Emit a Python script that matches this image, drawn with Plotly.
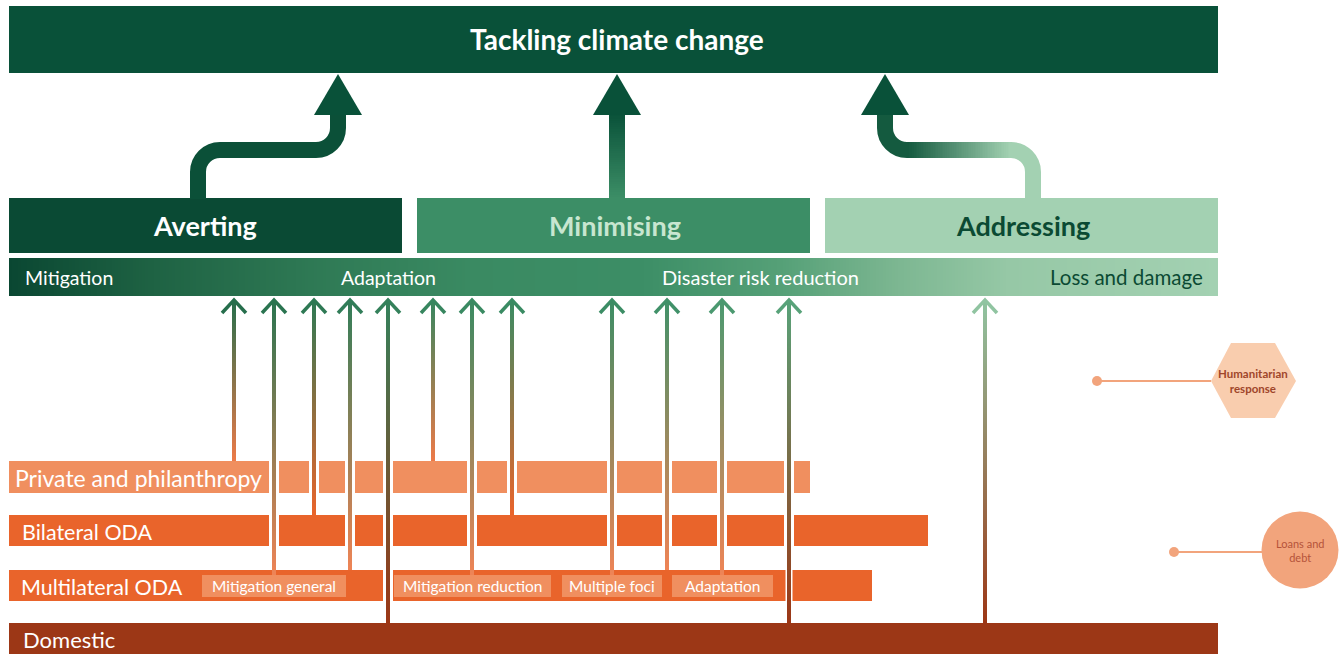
import numpy as np
import plotly.graph_objects as go

# ---------------- data ----------------
title_text = "Tackling climate change"
pillars = ["Averting", "Minimising", "Addressing"]
themes = ["Mitigation", "Adaptation", "Disaster risk reduction", "Loss and damage"]
sources = ["Private and philanthropy", "Bilateral ODA", "Multilateral ODA", "Domestic"]
source_extent = [810, 928, 872, 1218]          # right end of each source bar
sub_labels = ["Mitigation general", "Mitigation reduction", "Multiple foci", "Adaptation"]
sub_extent = [(202, 346), (394, 551), (562, 662), (672, 773)]
flow_x = [234, 274, 314, 350, 388, 433, 472, 512, 612, 667, 722, 789, 985]
flow_src = ["Private and philanthropy", "Multilateral ODA", "Bilateral ODA", "Multilateral ODA",
            "Domestic", "Private and philanthropy", "Multilateral ODA", "Bilateral ODA",
            "Multilateral ODA", "Multilateral ODA", "Multilateral ODA", "Domestic", "Domestic"]
narrow_crossings = [(789, "Multilateral ODA")]
side_notes = ["Humanitarian<br>response", "Loans and<br>debt"]

# ---------------- styles ----------------
FONT = "Lato"
DARK = "#095139"
PILLAR_FILL = ["#0A4A34", "#3C8E66", "#A3D1B2"]
PILLAR_TEXT = ["#FFFFFF", "#C8E6D0", "#0B4A33"]
SRC_FILL = ["#F08F5F", "#E9642B", "#E9642B", "#9C3716"]
SRC_TOP = [461, 515, 570, 623]
SRC_BOT = [493, 546, 601, 654]
SRC_TEXT_X = [13, 20, 19, 21]
SRC_TEXT_SIZE = [23, 21.5, 21.5, 22]
FLOW_BOTTOM_COL = {"Private and philanthropy": "#EC7A48", "Bilateral ODA": "#E9642B",
                   "Multilateral ODA": "#EE8456", "Domestic": "#9C3716"}
GRAD_STOPS = [(9, "#0A4732"), (150, "#1E6243"), (320, "#2F7A55"), (470, "#3A8A62"),
              (640, "#3C8E66"), (780, "#55A077"), (900, "#7DB792"), (1010, "#96C8A6"),
              (1218, "#A3D1B2")]


def h2rgb(h):
    h = h.lstrip("#")
    return tuple(int(h[i:i + 2], 16) for i in (0, 2, 4))


def rgb2h(c):
    return "#%02X%02X%02X" % tuple(int(round(v)) for v in c)


def mix(a, b, t):
    a, b = h2rgb(a), h2rgb(b)
    return rgb2h([a[i] + (b[i] - a[i]) * t for i in range(3)])


def grad_at(x):
    for (x0, c0), (x1, c1) in zip(GRAD_STOPS[:-1], GRAD_STOPS[1:]):
        if x0 <= x <= x1:
            return mix(c0, c1, (x - x0) / (x1 - x0))
    return GRAD_STOPS[-1][1] if x > GRAD_STOPS[-1][0] else GRAD_STOPS[0][1]


fig = go.Figure()
shapes = []
ann = []


def rect(x0, y0, x1, y1, color, layer="below"):
    shapes.append(dict(type="rect", xref="x", yref="y", x0=x0, x1=x1, y0=y0, y1=y1,
                       fillcolor=color, line=dict(width=0), layer=layer))


def text(x, y, s, size, color, anchor="center", bold=False):
    ann.append(dict(x=x, y=y, xref="x", yref="y", text=s, showarrow=False, xanchor=anchor,
                    yanchor="middle", font=dict(family=FONT, size=size, color=color,
                                                weight=700 if bold else 400)))


def vgrad(xc, w, ytop, ybot, ctop, cbot, n=None):
    n = n or max(int((ybot - ytop) / 2), 2)
    h = (ybot - ytop) / n
    ys = [ytop + (i + 0.5) * h for i in range(n)]
    z = [[i / (n - 1)] for i in range(n)]
    fig.add_trace(go.Heatmap(x0=xc, dx=w, y=ys, z=z, zmin=0, zmax=1,
                             colorscale=[[0, ctop], [1, cbot]], showscale=False,
                             hoverinfo="skip"))


def hgrad(xl, xr, yc, hgt, cl, cr, n=60):
    dx = (xr - xl) / n
    xs = [xl + (i + 0.5) * dx for i in range(n)]
    z = [[i / (n - 1) for i in range(n)]]
    fig.add_trace(go.Heatmap(x=xs, y0=yc, dy=hgt, z=z, zmin=0, zmax=1,
                             colorscale=[[0, cl], [1, cr]], showscale=False, hoverinfo="skip"))


# ---- title bar ----
rect(9, 6, 1218, 73, DARK)
text(617, 39, title_text, 28, "#FFFFFF", bold=True)

# ---- pillar boxes ----
pill_x = [(9, 402), (417, 810), (825, 1218)]
for (x0, x1), name, fc, tc in zip(pill_x, pillars, PILLAR_FILL, PILLAR_TEXT):
    rect(x0, 198, x1, 253, fc)
    text((x0 + x1) / 2 + (-1 if name == "Averting" else 1), 225, name, 27, tc, bold=True)

# ---- big arrows ----
r = 22
k = 0.5523 * r
W = 16
# Averting (solid)
ax0, ax1, hy = 198, 338, 150
p = (f"M {ax0} 199 L {ax0} {hy + r} C {ax0} {hy + r - k} {ax0 + r - k} {hy} {ax0 + r} {hy} "
     f"L {ax1 - r} {hy} C {ax1 - r + k} {hy} {ax1} {hy - r + k} {ax1} {hy - r} L {ax1} 112")
shapes.append(dict(type="path", path=p, line=dict(color="#0B5038", width=W), layer="below"))
# Minimising (vertical gradient)
vgrad(617, W, 112, 199, DARK, "#3C8E66", n=40)
# Addressing (horizontal gradient in the middle)
bx0, bx1 = 885, 1033
p_r = (f"M {bx1} 199 L {bx1} {hy + r} C {bx1} {hy + r - k} {bx1 - r + k} {hy} {bx1 - r} {hy} "
       f"L {bx1 - r - 1} {hy}")
shapes.append(dict(type="path", path=p_r, line=dict(color="#A3D1B2", width=W), layer="below"))
p_l = (f"M {bx0 + r + 1} {hy} L {bx0 + r} {hy} C {bx0 + r - k} {hy} {bx0} {hy - r + k} {bx0} {hy - r} "
       f"L {bx0} 112")
shapes.append(dict(type="path", path=p_l, line=dict(color="#145A3F", width=W), layer="below"))
hgrad(bx0 + r, bx1 - r, hy, W, "#145A3F", "#A3D1B2")
# arrowheads
for cx in (338, 617, 885):
    shapes.append(dict(type="path", path=f"M {cx - 24} 115 L {cx + 24} 115 L {cx} 74 Z",
                       fillcolor=DARK, line=dict(width=0), layer="above"))

# ---- theme gradient bar ----
n = 400
dxb = 1209 / n
xs = [9 + (i + 0.5) * dxb for i in range(n)]
fig.add_trace(go.Heatmap(x=xs, y0=277, dy=38, z=[xs], zmin=9, zmax=1218,
                         colorscale=[[(sx - 9) / 1209, c] for sx, c in GRAD_STOPS],
                         showscale=False, hoverinfo="skip"))
text(23, 277, themes[0], 19.5, "#FFFFFF", anchor="left")
text(388, 277, themes[1], 19.5, "#FFFFFF")
text(760, 277, themes[2], 20, "#FFFFFF")
text(1205, 277, themes[3], 20.5, "#0B4A33", anchor="right")

# ---- source bars ----
for i, name in enumerate(sources):
    rect(9, SRC_TOP[i], source_extent[i], SRC_BOT[i], SRC_FILL[i])
for (x0, x1), lab in zip(sub_extent, sub_labels):
    rect(x0, 575, x1, 597, "#F08F5F")
    text((x0 + x1) / 2, 586, lab, 15.5, "#FFFFFF")

# ---- flows ----
for x, src in zip(flow_x, flow_src):
    si = sources.index(src)
    end = SRC_TOP[si]
    if src == "Multilateral ODA" and any(a <= x <= b for a, b in sub_extent):
        end = 575
    for bi in range(si):
        if 9 <= x <= source_extent[bi]:
            half = 3.5 if (x, sources[bi]) in narrow_crossings else 5
            rect(x - half, SRC_TOP[bi] - 0.5, x + half, SRC_BOT[bi] + 0.5, "#FFFFFF")
    top_col = grad_at(x)
    vgrad(x, 4, 300, end, top_col, FLOW_BOTTOM_COL[src])
    shapes.append(dict(type="path", path=f"M {x - 12} 313 L {x} 300 L {x + 12} 313",
                       line=dict(color=top_col, width=3.5), layer="above"))

for i, name in enumerate(sources):
    text(SRC_TEXT_X[i], (SRC_TOP[i] + SRC_BOT[i]) / 2 + 1, name, SRC_TEXT_SIZE[i], "#FFFFFF", anchor="left")

# ---- side notes ----
hx, hyc = 1253, 381
shapes.append(dict(type="path", path=f"M 1211 {hyc} L 1231 343 L 1275 343 L 1296 {hyc} L 1275 418 L 1231 418 Z",
                   fillcolor="#F9CDAE", line=dict(width=0), layer="below"))
shapes.append(dict(type="line", x0=1097, x1=1211, y0=hyc, y1=hyc, line=dict(color="#F2A47C", width=2), layer="below"))
shapes.append(dict(type="circle", x0=1261.5, x1=1338.5, y0=511.5, y1=588.5, fillcolor="#F2A47C",
                   line=dict(width=0), layer="below"))
shapes.append(dict(type="line", x0=1174, x1=1262, y0=552, y1=552, line=dict(color="#F2A47C", width=2), layer="below"))
fig.add_trace(go.Scatter(x=[1097, 1174], y=[hyc, 552], mode="markers",
                         marker=dict(size=10, color="#F2A47C"), hoverinfo="skip"))
text(hx, hyc, side_notes[0], 11.5, "#A0462A", bold=True)
text(1300, 550, side_notes[1], 11, "#B5533A")

fig.update_layout(
    width=1340, height=654, margin=dict(l=0, r=0, t=0, b=0),
    paper_bgcolor="white", plot_bgcolor="white", showlegend=False,
    xaxis=dict(range=[0, 1340], visible=False, fixedrange=True),
    yaxis=dict(range=[654, 0], visible=False, fixedrange=True),
    shapes=shapes, annotations=ann,
)
fig.write_html("out.html", config={"displayModeBar": False},
               post_script="document.body.style.margin='0';document.body.style.overflow='hidden';")
